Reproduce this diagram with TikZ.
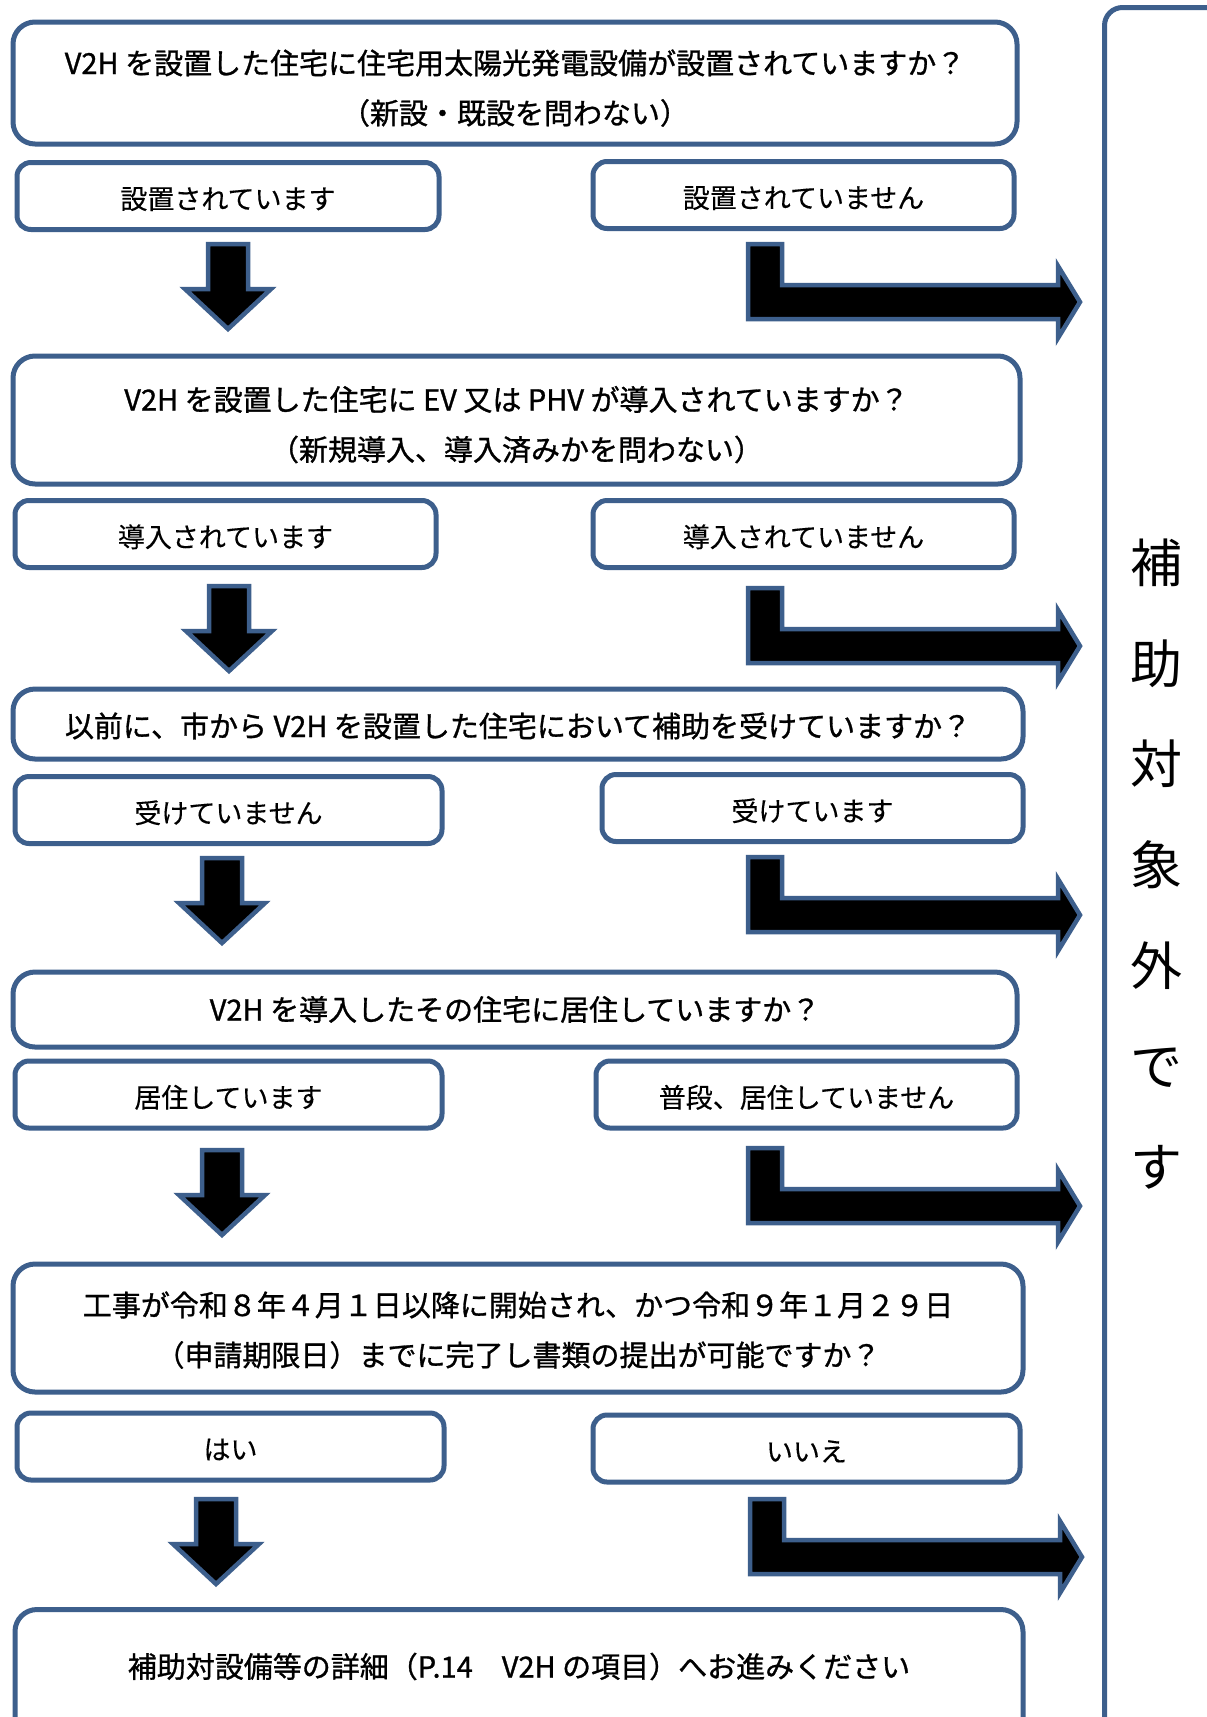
\documentclass[tikz,border=0pt]{standalone}
\usepackage{fontspec}
\setmainfont{Noto Sans CJK JP}
\newfontfamily\qfont{Noto Sans CJK JP}[FakeBold=1]
\newfontfamily\afont{Noto Sans CJK JP}[FakeBold=0.3]
\definecolor{bc}{RGB}{61,95,140}
\newcommand{\dn}[2]{\raisebox{-#1pt}[\height][\depth]{\begin{tabular}{@{}c@{}}#2\end{tabular}}}
\newcommand{\downarr}[2]{\draw[arr,shift={(#1,#2)}] (-20,0) -- (20,0) -- (20,45) -- (43,45) -- (0,85) -- (-43,45) -- (-20,45) -- cycle;}
\newcommand{\bentarr}[2]{\draw[arr,shift={(#1,#2)}] (0,0) -- (34,0) -- (34,41) -- (310,41) -- (310,22) -- (332,58) -- (310,94) -- (310,75) -- (0,75) -- cycle;}
\begin{document}
\begin{tikzpicture}[x=1pt,y=-1pt,
  qbox/.style={draw=bc,line width=5pt,rounded corners=22pt,fill=white,inner sep=0pt,font=\qfont\fontsize{29}{50}\selectfont},
  abox/.style={draw=bc,line width=5pt,rounded corners=14pt,fill=white,inner sep=0pt,minimum height=67pt,font=\afont\fontsize{27}{32}\selectfont},
  arr/.style={fill=black,draw=bc,line width=4.5pt,line join=miter}]
\useasboundingbox (0,0) rectangle (1207,1717);
\clip (0,0) rectangle (1207,1717);
\fill[white] (0,0) rectangle (1207,1717);

% side box
\node[draw=bc,line width=5pt,rounded corners=18pt,minimum width=160pt,minimum height=1760pt,anchor=north west,inner sep=0pt] (side) at (1102,5) {};
\node[font=\fontsize{52}{100.7}\selectfont,align=center,inner sep=0pt] (sidetext) at (1156,864) {補\\助\\対\\象\\外\\で\\す};

% question 1
\node[qbox,minimum width=1004pt,minimum height=122pt] (q1) at (515,83) {\dn{6}{V2H を設置した住宅に住宅用太陽光発電設備が設置されていますか？\\（新設・既設を問わない）}};
\node[abox,minimum width=422pt] (a1y) at (228,196) {\dn{6.5}{設置されています}};
\node[abox,minimum width=421pt] (a1n) at (803.5,195) {\dn{6.5}{設置されていません}};
\downarr{228}{244}
\bentarr{748}{244}

% question 2
\node[qbox,minimum width=1007pt,minimum height=128pt] (q2) at (516.5,420) {\dn{5.5}{V2H を設置した住宅に EV 又は PHV が導入されていますか？\\（新規導入、導入済みかを問わない）}};
\node[abox,minimum width=421pt] (a2y) at (225.5,534) {\dn{6.5}{導入されています}};
\node[abox,minimum width=421pt] (a2n) at (803.5,534) {\dn{6.5}{導入されていません}};
\downarr{229}{586}
\bentarr{748}{588}

% question 3
\node[qbox,minimum width=1010pt,minimum height=70pt] (q3) at (518,724) {\dn{3}{以前に、市から V2H を設置した住宅において補助を受けていますか？}};
\node[abox,minimum width=427pt] (a3y) at (228.5,810) {\dn{6.5}{受けていません}};
\node[abox,minimum width=421pt] (a3n) at (812.5,808) {\dn{6.5}{受けています}};
\downarr{222}{858}
\bentarr{748}{857}

% question 4
\node[qbox,minimum width=1004pt,minimum height=75pt] (q4) at (515,1009.5) {\dn{1}{V2H を導入したその住宅に居住していますか？}};
\node[abox,minimum width=427pt] (a4y) at (228.5,1094.5) {\dn{6.5}{居住しています}};
\node[abox,minimum width=421pt] (a4n) at (806.5,1094.5) {\dn{6.5}{普段、居住していません}};
\downarr{222}{1150}
\bentarr{748}{1148}

% question 5
\node[qbox,minimum width=1010pt,minimum height=128pt] (q5) at (518,1328) {\dn{3}{工事が令和８年４月１日以降に開始され、かつ令和９年１月２９日\\（申請期限日）までに完了し書類の提出が可能ですか？}};
\node[abox,minimum width=427pt] (a5y) at (230.5,1446.5) {\dn{6.5}{はい}};
\node[abox,minimum width=427pt] (a5n) at (806.5,1448.5) {\dn{6.5}{いいえ}};
\downarr{216}{1499}
\bentarr{750}{1499}

% final
\node[qbox,anchor=north,minimum width=1008pt,text height=68pt,text depth=90pt] (q6) at (519,1607) {補助対設備等の詳細（P.14　V2H の項目）へお進みください};
\end{tikzpicture}
\end{document}
